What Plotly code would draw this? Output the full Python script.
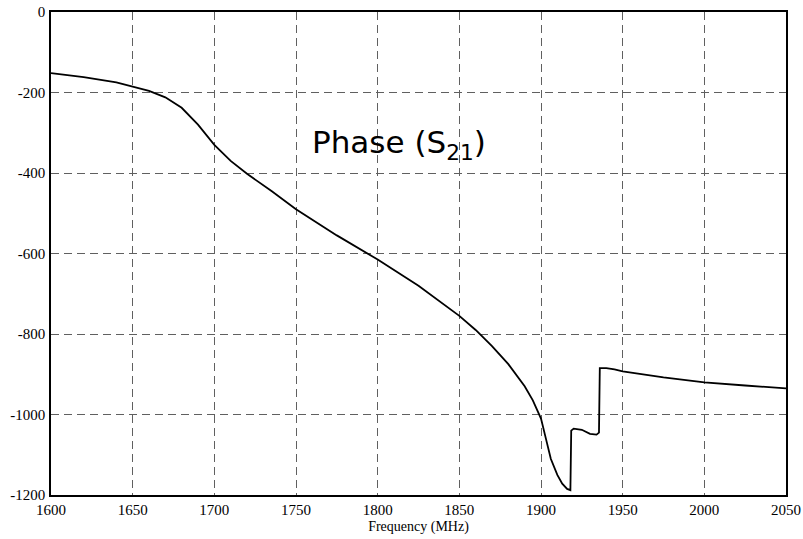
import plotly.graph_objects as go

freq = [1600, 1620, 1640, 1650, 1660, 1670, 1680, 1690, 1700, 1710, 1720, 1735, 1750, 1775,
        1800, 1825, 1850, 1860, 1870, 1880, 1890, 1895, 1900, 1903, 1906, 1910, 1913, 1916, 1918,
        1918.5, 1920, 1925, 1930, 1934, 1935.5,
        1936, 1940, 1945, 1950, 1975, 2000, 2025, 2050]
phase = [-152, -162, -175, -185, -196, -212, -238, -280, -330, -370, -402, -445, -490, -555,
         -615, -680, -755, -790, -830, -875, -930, -965, -1010, -1060, -1110, -1150, -1172, -1185, -1188,
         -1040, -1035, -1038, -1048, -1050, -1045,
         -885, -885, -888, -893, -908, -920, -928, -935]

x_ticks = [1600, 1650, 1700, 1750, 1800, 1850, 1900, 1950, 2000, 2050]
y_ticks = [0, -200, -400, -600, -800, -1000, -1200]

SERIF = "Liberation Serif"

fig = go.Figure()
fig.add_trace(go.Scatter(x=freq, y=phase, mode="lines",
                         line=dict(color="black", width=1.8), showlegend=False))

fig.add_annotation(x=1813, y=-328, text="Phase (S<sub>21</sub>)", showarrow=False,
                   font=dict(family="DejaVu Sans", size=31, color="black"))

axis_common = dict(showline=True, linecolor="black", linewidth=1.5, mirror=True,
                   showgrid=True, gridcolor="#606060", griddash="8px,5px", gridwidth=1,
                   zeroline=False, ticks="", automargin=False,
                   tickfont=dict(family=SERIF, size=15, color="black"))

fig.update_xaxes(range=[1600, 2050], tickvals=x_ticks, ticktext=[str(v) for v in x_ticks],
                 title=dict(text="Frequency (MHz)", font=dict(family=SERIF, size=14, color="black"),
                            standoff=4),
                 ticklabelstandoff=0, **axis_common)
fig.update_yaxes(range=[-1200, 0], tickvals=y_ticks, ticktext=[str(v) for v in y_ticks],
                 ticklabelstandoff=1, **axis_common)

fig.update_layout(width=803, height=539, margin=dict(l=51, r=17, t=12, b=44),
                  plot_bgcolor="white", paper_bgcolor="white")

fig.write_html("out.html")
